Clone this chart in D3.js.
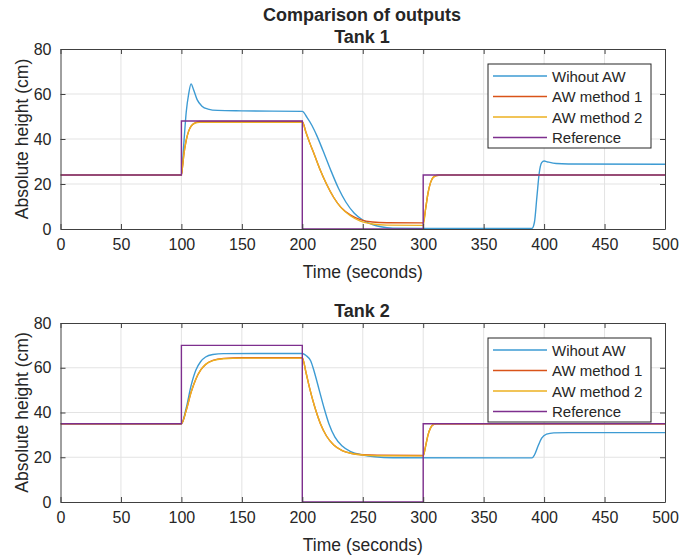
<!DOCTYPE html>
<html>
<head>
<meta charset="utf-8">
<script src="https://cdn.jsdelivr.net/npm/d3@7"></script>
<style>
  body { margin: 0; background: #fff; }
  text { font-family: "Liberation Sans", Arial, sans-serif; fill: #262626; }
</style>
</head>
<body>
<svg id="chart" width="681" height="558"></svg>
<script>
// series names and colours (MATLAB default order)
var seriesNames = ["Wihout AW", "AW method 1", "AW method 2", "Reference"];
var seriesColors = ["#3d9bd3", "#d95319", "#edb120", "#7e2f8e"];
var xTicks = [0, 50, 100, 150, 200, 250, 300, 350, 400, 450, 500];
var yTicks = [0, 20, 40, 60, 80];

// Tank 1, [time, height]
var tank1NoAW = [[0,24],[100,24],[102,38],[104,52],[106,60],[108,64.5],[110,62],[113,57.5],[117,54.6],
  [122,53.3],[130,52.7],[150,52.5],[200,52.3],[204,49.5],[208,46],[212,41.5],[217,35],[224,25.5],[230,18],
  [236,12],[243,7],[250,4],[258,2],[265,1],[275,0.4],[300,0.3],[390,0.3],[392,3],[394,14],[396,25],
  [398,29.5],[400,30.2],[403,29.8],[410,29.1],[420,28.9],[500,28.8]];
var tank1AW1 = [[0,24],[100,24],[101,28],[102,33],[104,39.5],[106,43.5],[108,45.7],[111,47.1],[115,47.8],
  [200,47.8],[203,43],[206,38.5],[210,33],[215,26],[220,20],[226,14],[232,9.6],[240,6.2],[248,4.2],
  [258,3.1],[270,2.8],[300,2.7],[302,9],[304,16],[306,20.5],[308,22.8],[311,23.8],[315,24],[500,24]];
var tank1AW2 = [[0,24],[100,24],[101,28],[102,33],[104,39.5],[106,43.5],[108,45.6],[111,47],[115,47.4],
  [200,47.4],[203,43],[206,38.5],[210,33],[215,26],[220,20],[226,14],[232,9.5],[240,5.8],[248,3.5],
  [258,2.2],[270,1.7],[300,1.6],[302,9],[304,16],[306,20.5],[308,22.8],[311,23.8],[315,24],[500,24]];
var tank1Ref = [[0,24],[100,48],[200,0],[300,24],[500,24]];

// Tank 2, [time, height]
var tank2NoAW = [[0,35],[100,35],[104,42],[108,52],[112,59],[116,62.8],[120,64.8],[126,65.9],[135,66.3],
  [200,66.4],[203,65.5],[207,63],[210,58],[214,50],[218,42],[222,35],[227,29],[233,25],[240,22.5],
  [250,21],[260,20.2],[275,19.8],[390,19.7],[392,21],[395,25],[398,28.5],[402,30.3],[408,30.9],
  [420,31],[500,31]];
var tank2AW1 = [[0,35],[100,35],[104,41],[108,49],[112,55],[116,59],[120,61.5],[126,63.3],[135,64.2],
  [150,64.5],[200,64.5],[203,58],[206,51],[210,43],[215,35],[220,29.5],[226,25.5],[233,23],[240,21.8],
  [250,21.1],[262,20.9],[300,20.8],[302,25],[304,30],[306,33],[308,34.5],[311,35],[500,35]];
var tank2AW2 = [[0,35],[100,35],[104,41],[108,49],[112,55],[116,59],[120,61.5],[126,63.2],[135,64],
  [150,64.3],[200,64.3],[203,58],[206,51],[210,43],[215,35],[220,29.5],[226,25.5],[233,23],[240,21.8],
  [250,21],[262,20.7],[300,20.6],[302,25],[304,30],[306,33],[308,34.5],[311,35],[500,35]];
var tank2Ref = [[0,35],[100,70],[200,0],[300,35],[500,35]];

var svg = d3.select("#chart");
var x = d3.scaleLinear().domain([0, 500]).range([60.5, 665]);

svg.append("text").attr("x", 362).attr("y", 20.5).attr("text-anchor", "middle")
  .style("font-size", "18px").style("font-weight", "bold").text("Comparison of outputs");

function drawPanel(id, top, bottom, title, titleY, data, legendBox) {
  var y = d3.scaleLinear().domain([0, 80]).range([bottom, top]);
  var g = svg.append("g");

  g.append("clipPath").attr("id", "clip" + id).append("rect")
    .attr("x", x(0)).attr("y", top).attr("width", x(500) - x(0)).attr("height", bottom - top);

  // grid
  g.selectAll(".gx").data(xTicks.slice(1, -1)).enter().append("line")
    .attr("x1", d => x(d)).attr("x2", d => x(d)).attr("y1", top).attr("y2", bottom)
    .attr("stroke", "#e3e3e3").attr("stroke-width", 1);
  g.selectAll(".gy").data(yTicks.slice(1, -1)).enter().append("line")
    .attr("x1", x(0)).attr("x2", x(500)).attr("y1", d => y(d)).attr("y2", d => y(d))
    .attr("stroke", "#e3e3e3").attr("stroke-width", 1);

  // series
  var lineSmooth = d3.line().x(d => x(d[0])).y(d => y(d[1])).curve(d3.curveMonotoneX);
  var lineStep = d3.line().x(d => x(d[0])).y(d => y(d[1])).curve(d3.curveStepAfter);
  data.forEach(function(s, i) {
    g.append("path").datum(s)
      .attr("clip-path", "url(#clip" + id + ")")
      .attr("d", i == 3 ? lineStep : lineSmooth)
      .attr("fill", "none").attr("stroke", seriesColors[i]).attr("stroke-width", 1.4);
  });

  // axes with inward ticks, box
  var axB = g.append("g").attr("transform", "translate(0," + bottom + ")")
    .call(d3.axisBottom(x).tickValues(xTicks).tickSizeInner(-5).tickSizeOuter(0).tickPadding(10));
  var axT = g.append("g").attr("transform", "translate(0," + top + ")")
    .call(d3.axisTop(x).tickValues(xTicks).tickSizeInner(-5).tickSizeOuter(0).tickFormat(""));
  var axL = g.append("g").attr("transform", "translate(" + x(0) + ",0)")
    .call(d3.axisLeft(y).tickValues(yTicks).tickSizeInner(-5).tickSizeOuter(0).tickPadding(9));
  var axR = g.append("g").attr("transform", "translate(" + x(500) + ",0)")
    .call(d3.axisRight(y).tickValues(yTicks).tickSizeInner(-5).tickSizeOuter(0).tickFormat(""));
  [axB, axT, axL, axR].forEach(function(a) {
    a.selectAll("path").attr("stroke", "#404040");
    a.selectAll("line").attr("stroke", "#404040");
    a.selectAll("text").style("font-size", "16px").style("font-family", "Liberation Sans, Arial, sans-serif")
      .attr("fill", "#262626");
  });

  g.append("text").attr("x", 362).attr("y", titleY).attr("text-anchor", "middle")
    .style("font-size", "18px").style("font-weight", "bold").text(title);
  g.append("text").attr("x", (x(0) + x(500)) / 2).attr("y", bottom + 49).attr("text-anchor", "middle")
    .style("font-size", "17.5px").text("Time (seconds)");
  g.append("text").attr("transform", "translate(28," + (top + bottom) / 2 + ") rotate(-90)")
    .attr("text-anchor", "middle").style("font-size", "17.5px").text("Absolute height (cm)");

  // legend
  var lg = g.append("g").attr("transform", "translate(" + legendBox[0] + "," + legendBox[1] + ")");
  lg.append("rect").attr("width", 163).attr("height", 84).attr("fill", "#fff")
    .attr("stroke", "#262626").attr("stroke-width", 1);
  seriesNames.forEach(function(n, i) {
    var cy = 12 + i * 20.5;
    lg.append("line").attr("x1", 5).attr("x2", 59).attr("y1", cy).attr("y2", cy)
      .attr("stroke", seriesColors[i]).attr("stroke-width", 1.4);
    lg.append("text").attr("x", 64).attr("y", cy + 5.5).style("font-size", "15px").text(n);
  });
}

drawPanel(1, 49, 229, "Tank 1", 42.5, [tank1NoAW, tank1AW1, tank1AW2, tank1Ref], [488, 64]);
drawPanel(2, 323, 502, "Tank 2", 317, [tank2NoAW, tank2AW1, tank2AW2, tank2Ref], [488, 338]);
</script>
</body>
</html>
